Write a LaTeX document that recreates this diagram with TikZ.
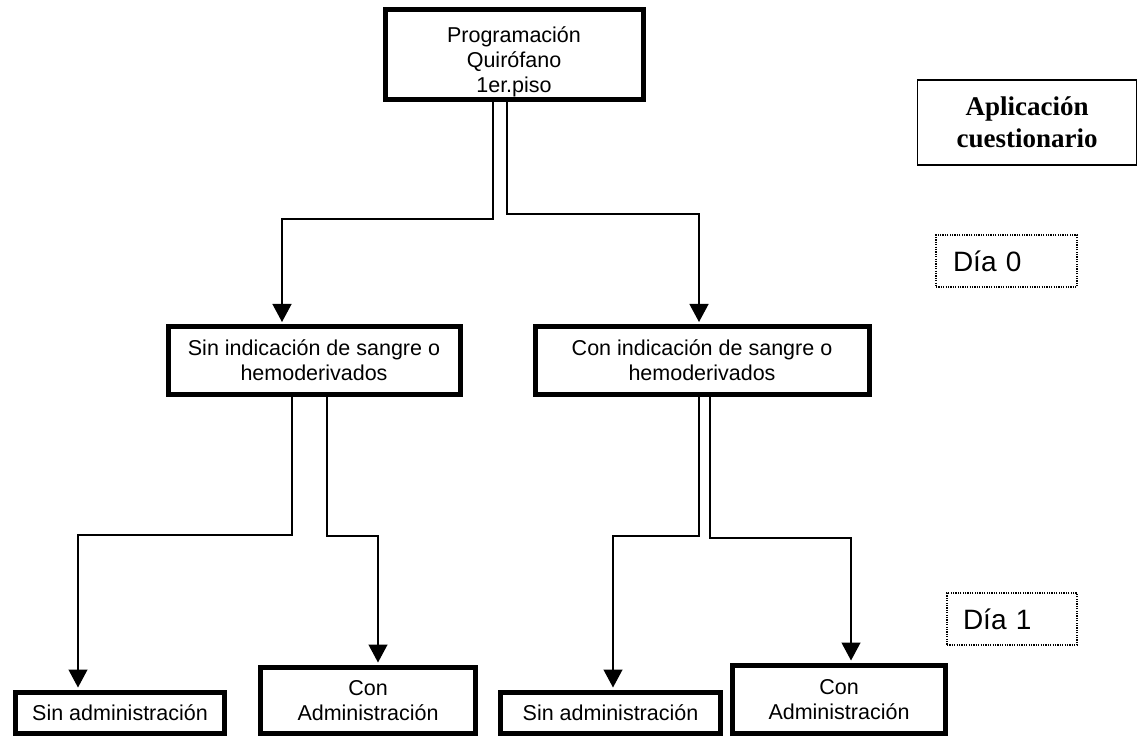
\documentclass[tikz,border=0pt]{standalone}
\usepackage{fontspec}
\setmainfont{Liberation Sans}
\newfontfamily\serifbf{Liberation Serif}
\usetikzlibrary{positioning}
\usetikzlibrary{arrows.meta}

\tikzset{
  caja/.style={draw,line width=2.5pt,inner sep=0pt,align=center,
    font=\fontsize{10.75}{12.5}\selectfont},
  dia/.style={draw,line width=0.7pt,dash pattern=on 0.6pt off 0.6pt,
    align=left,font=\fontsize{14}{16}\selectfont}
}

\begin{document}
\begin{tikzpicture}[x=0.5pt,y=-0.5pt,->,>={Triangle[width=9.5pt,length=9pt]},
  shorten >=1.25pt,line width=0.65pt]
\useasboundingbox (0,0) rectangle (1139,737);
% cajas
\node[caja,minimum width=129pt,minimum height=45pt]   (prog)    at (514,55)
  {\raisebox{-4pt}[\height][\depth]{\begin{tabular}{@{}c@{}}Programación\\Quirófano\\1er.piso\end{tabular}}};
\node[caja,minimum width=146pt,minimum height=33.5pt] (sinind)  at (314,360.5) {Sin indicación de sangre o\\hemoderivados};
\node[caja,minimum width=167pt,minimum height=33.5pt] (conind)  at (702,360.5) {Con indicación de sangre o\\hemoderivados};
\node[caja,minimum width=104.5pt,minimum height=20.5pt] (sinadm1) at (120,713)   {Sin administración};
\node[caja,minimum width=107.5pt,minimum height=33pt]   (conadm1) at (368,700.5) {Con\\Administración};
\node[caja,minimum width=110pt,minimum height=20.5pt]   (sinadm2) at (610.5,713) {Sin administración};
\node[caja,minimum width=106.5pt,minimum height=34pt]   (conadm2) at (839,699.5) {Con\\Administración};
% leyenda
\node[draw,line width=0.65pt,minimum width=109.5pt,minimum height=42.5pt,align=center,
  font=\serifbf\bfseries\fontsize{13.5}{16}\selectfont] (aplic) at (1027,122.5) {Aplicación\\cuestionario};
\node[dia,minimum height=26pt,text width=53.5pt,inner xsep=8.5pt] (dia0) at (1006.5,261) {Día 0};
\node[dia,minimum height=26pt,text width=49pt,inner xsep=8pt]     (dia1) at (1012,619)   {Día 1};
% conectores
\coordinate (k1) at (282,219);
\coordinate (k2) at (699,214);
\coordinate (k3) at (78,535);
\coordinate (k4) at (378,536);
\coordinate (k5) at (613,536);
\coordinate (k6) at (851,538);
\draw ([xshift=-10.5pt]prog.south) |- (k1) -- (k1 |- sinind.north);
\draw ([xshift=-3.5pt]prog.south)  |- (k2) -- (k2 |- conind.north);
\draw ([xshift=-11pt]sinind.south) |- (k3) -- (k3 |- sinadm1.north);
\draw ([xshift=6.5pt]sinind.south) |- (k4) -- (k4 |- conadm1.north);
\draw ([xshift=-1.5pt]conind.south) |- (k5) -- (k5 |- sinadm2.north);
\draw ([xshift=4pt]conind.south)   |- (k6) -- (k6 |- conadm2.north);
\end{tikzpicture}
\end{document}
